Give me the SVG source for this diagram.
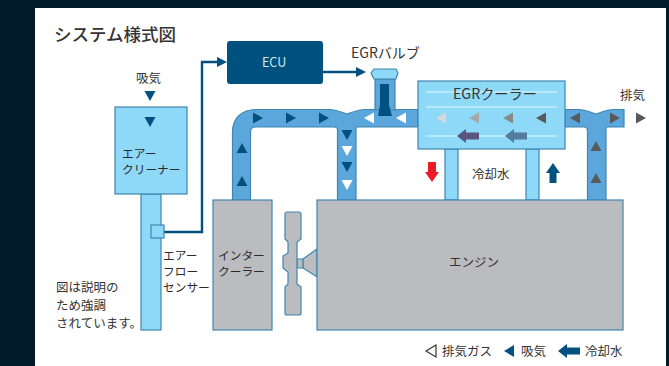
<svg xmlns="http://www.w3.org/2000/svg" width="669" height="366" viewBox="0 0 669 366">
<style>
text{font-family:"Noto Sans CJK JP","Noto Sans",sans-serif;font-size:12.5px;fill:#333}
.k{font-size:11.7px;fill:#2a2a2a}
.lt{fill:#8ed8f8;stroke:#3f86ad;stroke-width:1.2}
.pipe{fill:#5ba7dc;stroke:#3f86ad;stroke-width:1.2}
.gray{fill:#bbbcc0;stroke:#3f86ad;stroke-width:1.2}
.dk{fill:#00517f}
.flow{fill:none;stroke:#00517f;stroke-width:2.4}
.cl{stroke:#c8ecfb;stroke-width:1.5}
.ex{fill:#58595b}
.w{fill:#fff}
</style>
<defs>
<polygon id="r" points="-5,-5.500 5,0 -5,5.500"/>
<polygon id="l" points="5,-5.500 -5,0 5,5.500"/>
<polygon id="d" points="-5.500,-5 5.500,-5 0,5"/>
<polygon id="u" points="-5.500,5 5.500,5 0,-5"/>
<polygon id="al" points="-11,0 -2,-7 -2,-3.500 11,-3.500 11,3.500 -2,3.500 -2,7"/>
</defs>
<rect width="669" height="366" fill="#001a2c"/>
<rect x="35" y="8" width="631" height="358" fill="#fff"/>
<text x="54" y="41" style="font-size:17.500px;font-weight:500">システム様式図</text>

<g id="connectors">
<path class="flow" d="M164 232H202V62H219"/>
<polygon class="dk" points="217,57 227,62 217,67"/>
<path class="flow" d="M323 72H358"/>
<polygon class="dk" points="356,67 366,72 356,77"/>
</g>

<g id="intake-pipe">
<path class="pipe" d="M232.500 200V132C232.500 118 242 109.500 256 109.500H328C336 109.500 341 112 347 114C353 112 358 109.500 366 109.500H418V127H356V200H337.500V130C337.500 128 336 127 334 127H256C252 127 250.500 129 250.500 132V200Z"/>
</g>
<g id="exhaust-pipe">
<path class="pipe" d="M565 109.500H578C585 109.500 590 112 596 114C602 112 607 109.500 614 109.500H624V127H606V200H587.500V131C587.500 128 586 127 584 127H565Z"/>
</g>

<g id="air-cleaner">
<rect class="lt" x="141" y="194" width="20" height="136"/>
<rect class="lt" x="115" y="107" width="72" height="87"/>
<use href="#d" class="dk" x="150" y="122"/>
<text class="k" x="122" y="158">エアー</text>
<text class="k" x="122" y="174">クリーナー</text>
</g>
<g id="sensor"><rect class="lt" x="151" y="225" width="13" height="13"/></g>

<g id="ecu">
<rect class="dk" x="227" y="41" width="96" height="43" rx="3"/>
<text x="262" y="67" style="fill:#d5e6ef">ECU</text>
</g>

<g id="egr-valve">
<path class="pipe" d="M375 79H395V110H375Z"/>
<path class="lt" d="M374 69H396L398 73L396 79H374L371 73Z"/>
<path class="dk" d="M380 84H389V105L392 116H378L380 105Z"/>
<text x="351" y="58" style="font-size:14px">EGRバルブ</text>
</g>

<g id="egr-cooler">
<rect class="lt" x="445" y="149" width="13" height="51"/>
<rect class="lt" x="526" y="149" width="13" height="51"/>
<rect class="lt" x="418" y="81" width="147" height="68"/>
<path class="cl" d="M426 92H557M426 107H557M426 136H557"/>
<text x="453" y="99" style="font-size:14.200px">EGRクーラー</text>
<use href="#l" x="441" y="118" fill="#d5d8da"/>
<use href="#l" x="474" y="118" fill="#a3a8aa"/>
<use href="#l" x="508" y="118" fill="#87898b"/>
<use href="#l" x="541" y="118" fill="#58595b"/>
<use href="#al" x="468" y="136" fill="#5b5480"/>
<use href="#al" x="516" y="136" fill="#557a9c"/>
</g>

<g id="intercooler">
<rect class="gray" x="213" y="200" width="59" height="130"/>
<text class="k" x="218" y="260">インター</text>
<text class="k" x="218" y="276">クーラー</text>
</g>

<g id="fan">
<path class="gray" d="M303 259L317 249V277L303 268Z"/>
<path class="gray" d="M297 259H303V268H297Z"/>
<path class="gray" d="M287 212H299Q301 212 301 214V239L297 242V284L301 287V313Q301 315 299 315H287Q285 315 285 313V287L288 284V272L283 268V256L288 253V242L285 239V214Q285 212 287 212Z"/>
</g>

<g id="engine">
<rect class="gray" x="317" y="200" width="306" height="130"/>
<text x="449" y="267">エンジン</text>
</g>

<g id="flow-marks">
<use href="#d" class="dk" x="150" y="96"/>
<use href="#u" class="dk" x="242" y="148"/>
<use href="#u" class="dk" x="242" y="181"/>
<use href="#r" class="dk" x="258" y="118"/>
<use href="#r" class="dk" x="291" y="118"/>
<use href="#r" class="dk" x="324" y="118"/>
<use href="#d" class="dk" x="347" y="135"/>
<use href="#d" class="w" x="347" y="151"/>
<use href="#d" class="dk" x="347" y="167"/>
<use href="#d" class="w" x="347" y="185"/>
<use href="#l" class="w" x="369" y="118"/>
<use href="#l" class="w" x="401" y="118"/>
<use href="#l" class="ex" x="575" y="118"/>
<use href="#r" class="ex" x="615" y="118"/>
<use href="#r" class="ex" x="641" y="118"/>
<use href="#u" class="ex" x="596" y="146"/>
<use href="#u" class="ex" x="596" y="178"/>
</g>

<polygon fill="#ed1c24" points="428,162 436,162 436,172 439,172 432,182 425,172 428,172"/>
<polygon class="dk" points="549.500,183 556.500,183 556.500,173 560,173 553,163 546,173 549.500,173"/>

<text x="136" y="83">吸気</text>
<text x="472" y="179">冷却水</text>
<text x="620" y="100">排気</text>
<text class="k" x="163" y="260">エアー</text>
<text class="k" x="163" y="276">フロー</text>
<text class="k" x="163" y="292">センサー</text>
<text x="56" y="292">図は説明の</text>
<text x="56" y="310">ため強調</text>
<text x="56" y="328">されています。</text>

<g id="legend">
<path d="M436 345L426 351L436 357Z" fill="none" stroke="#333" stroke-width="1.2"/>
<text x="442" y="356">排気ガス</text>
<polygon class="dk" points="514,345 504,351 514,357"/>
<text x="521" y="356">吸気</text>
<use href="#al" class="dk" x="569" y="351"/>
<text x="585" y="356">冷却水</text>
</g>
</svg>
